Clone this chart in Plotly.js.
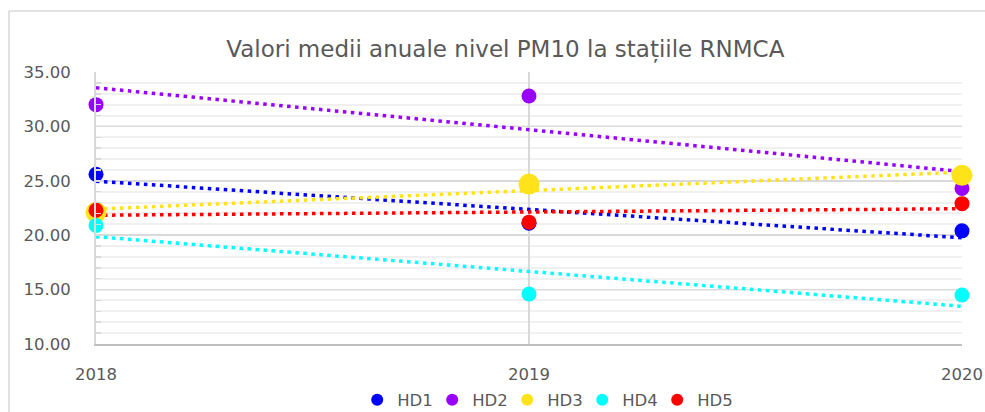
<!DOCTYPE html>
<html>
<head>
<meta charset="utf-8">
<script src="https://cdn.plot.ly/plotly-3.0.1.min.js"></script>
<style>html,body{margin:0;padding:0;background:#fff;}#chart{width:985px;height:412px;}</style>
</head>
<body>
<div id="chart"></div>
<script>
// ---- data ----
const years = [2018, 2019, 2020];
const seriesNames = ["HD1", "HD2", "HD3", "HD4", "HD5"];
const HD1 = [25.6, 21.1, 20.4];
const HD2 = [32.0, 32.8, 24.3];
const HD3 = [22.1, 24.7, 25.5];
const HD4 = [20.9, 14.6, 14.5];
const HD5 = [22.3, 21.2, 22.9];
const yTickVals = [10, 15, 20, 25, 30, 35];
const yTickText = ["10.00", "15.00", "20.00", "25.00", "30.00", "35.00"];
const titleText = "Valori medii anuale nivel PM10 la stațiile RNMCA";

// ---- styling ----
const seriesValues = [HD1, HD2, HD3, HD4, HD5];
const colors = ["#0000FF", "#9900FF", "#FFE31A", "#00FFFF", "#FF0000"];
const markerSizes = [15, 15, 21, 15, 15];
const FONT = "DejaVu Sans";
const TXT = "#595959";

// linear least-squares trendline (as in the spreadsheet's linear trendline)
function trend(xs, ys) {
  const n = xs.length;
  const mx = xs.reduce((a, b) => a + b, 0) / n;
  const my = ys.reduce((a, b) => a + b, 0) / n;
  let sxy = 0, sxx = 0;
  for (let i = 0; i < n; i++) { sxy += (xs[i] - mx) * (ys[i] - my); sxx += (xs[i] - mx) ** 2; }
  const b = sxy / sxx, a = my - b * mx;
  return xs.map(x => a + b * x);
}

const traces = [];
seriesValues.forEach((vals, i) => {
  traces.push({
    x: years, y: trend(years, vals), type: "scatter", mode: "lines",
    line: {color: colors[i], width: 3.5, dash: "3.5px,4.5px"},
    showlegend: false, hoverinfo: "skip", cliponaxis: false
  });
});
seriesValues.forEach((vals, i) => {
  traces.push({
    x: years, y: vals, type: "scatter", mode: "markers", name: seriesNames[i],
    marker: {color: colors[i], size: markerSizes[i], line: {width: 0}},
    cliponaxis: false
  });
});

const layout = {
  width: 985, height: 412,
  margin: {l: 96, r: 23, t: 72, b: 68, pad: 0, autoexpand: false},
  paper_bgcolor: "#ffffff", plot_bgcolor: "#ffffff",
  font: {family: FONT, color: TXT, size: 16},
  title: {text: titleText, font: {family: FONT, size: 23, color: TXT},
          xref: "container", x: 0.513, xanchor: "center",
          yref: "container", y: 0.881, yanchor: "middle"},
  xaxis: {
    range: [2018, 2020], tickvals: years, ticktext: years.map(String),
    showgrid: true, gridcolor: "#d9d9d9", gridwidth: 1.5,
    showline: true, linecolor: "#bfbfbf", linewidth: 2, zeroline: false,
    ticks: "", ticklabelstandoff: 14, automargin: false,
    tickfont: {family: FONT, size: 16.5, color: TXT}, fixedrange: true
  },
  yaxis: {
    range: [10, 35], tickvals: yTickVals, ticktext: yTickText,
    showgrid: true, gridcolor: "#d9d9d9", gridwidth: 1.5,
    showline: true, linecolor: "#d9d9d9", linewidth: 2, zeroline: false,
    ticks: "inside", ticklen: 5, tickcolor: "#d9d9d9", tickwidth: 1.5,
    ticklabelstandoff: 20, automargin: false,
    minor: {dtick: 1, showgrid: true, gridcolor: "#f0f0f0", gridwidth: 2,
            ticks: "inside", ticklen: 5, tickcolor: "#d9d9d9", tickwidth: 1.5},
    tickfont: {family: FONT, size: 16.5, color: TXT}, fixedrange: true
  },
  legend: {orientation: "h", xref: "container", yref: "container",
           x: 0.553, xanchor: "center", y: 0.029, yanchor: "middle",
           entrywidth: 30, entrywidthmode: "pixels",
           itemsizing: "constant", font: {family: FONT, size: 16.5, color: TXT},
           bgcolor: "rgba(0,0,0,0)"},
  shapes: [
    {type: "line", xref: "paper", yref: "paper", x0: (9 - 96) / 866, x1: (990 - 96) / 866,
     y0: (344 - 11) / 272, y1: (344 - 11) / 272, line: {color: "#d9d9d9", width: 1.5}},
    {type: "line", xref: "paper", yref: "paper", x0: (9 - 96) / 866, x1: (9 - 96) / 866,
     y0: (344 - 11) / 272, y1: (344 - 420) / 272, line: {color: "#d9d9d9", width: 1.5}}
  ],
  showlegend: true
};

Plotly.newPlot("chart", traces, layout, {displayModeBar: false, staticPlot: true});
</script>
</body>
</html>
